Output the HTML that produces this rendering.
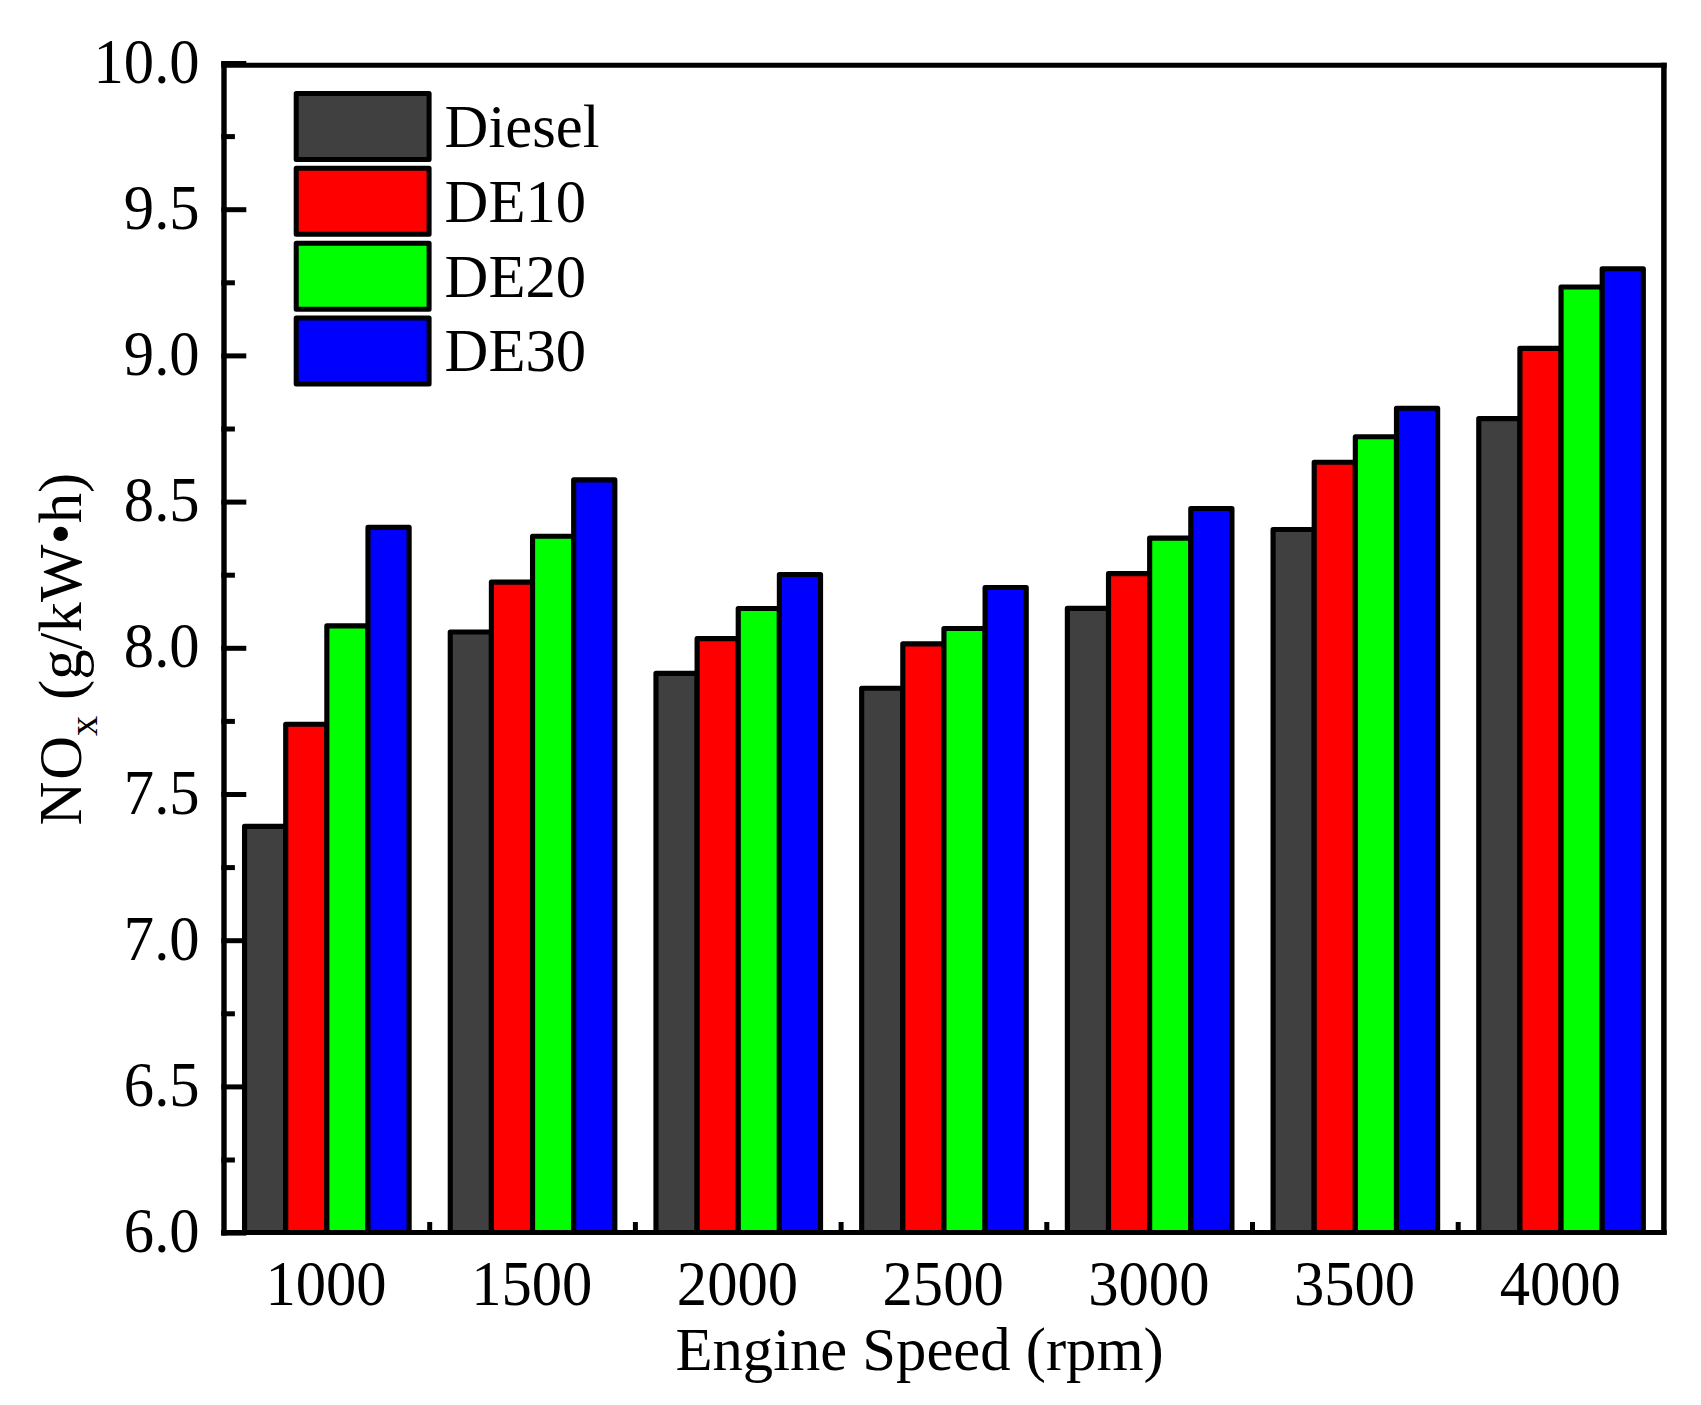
<!DOCTYPE html>
<html lang="en"><head><meta charset="utf-8"><title>NOx vs Engine Speed</title>
<style>
html,body{margin:0;padding:0;background:#fff;}
body{width:1701px;height:1405px;overflow:hidden;}
svg{display:block}
text{font-family:"Liberation Serif","Times New Roman",serif;font-size:62px;fill:#000;}
</style></head><body>
<svg width="1701" height="1405" viewBox="0 0 1701 1405">
<rect width="1701" height="1405" fill="#fff"/>

<g stroke="#000" stroke-width="5.15" stroke-linejoin="round">
<rect x="244.57" y="826.30" width="41.14" height="406.20" fill="#404040"/>
<rect x="285.71" y="724.20" width="41.14" height="508.30" fill="#ff0000"/>
<rect x="326.85" y="625.80" width="41.14" height="606.70" fill="#00ff00"/>
<rect x="367.99" y="527.40" width="41.14" height="705.10" fill="#0000ff"/>
<rect x="450.27" y="632.00" width="41.14" height="600.50" fill="#404040"/>
<rect x="491.41" y="582.10" width="41.14" height="650.40" fill="#ff0000"/>
<rect x="532.55" y="536.20" width="41.14" height="696.30" fill="#00ff00"/>
<rect x="573.69" y="479.90" width="41.14" height="752.60" fill="#0000ff"/>
<rect x="655.97" y="673.30" width="41.14" height="559.20" fill="#404040"/>
<rect x="697.11" y="638.65" width="41.14" height="593.85" fill="#ff0000"/>
<rect x="738.25" y="608.50" width="41.14" height="624.00" fill="#00ff00"/>
<rect x="779.39" y="574.45" width="41.14" height="658.05" fill="#0000ff"/>
<rect x="861.67" y="688.25" width="41.14" height="544.25" fill="#404040"/>
<rect x="902.81" y="643.90" width="41.14" height="588.60" fill="#ff0000"/>
<rect x="943.95" y="628.45" width="41.14" height="604.05" fill="#00ff00"/>
<rect x="985.09" y="587.45" width="41.14" height="645.05" fill="#0000ff"/>
<rect x="1067.37" y="608.30" width="41.14" height="624.20" fill="#404040"/>
<rect x="1108.51" y="573.65" width="41.14" height="658.85" fill="#ff0000"/>
<rect x="1149.65" y="538.10" width="41.14" height="694.40" fill="#00ff00"/>
<rect x="1190.79" y="508.50" width="41.14" height="724.00" fill="#0000ff"/>
<rect x="1273.07" y="529.45" width="41.14" height="703.05" fill="#404040"/>
<rect x="1314.21" y="462.25" width="41.14" height="770.25" fill="#ff0000"/>
<rect x="1355.35" y="436.75" width="41.14" height="795.75" fill="#00ff00"/>
<rect x="1396.49" y="408.25" width="41.14" height="824.25" fill="#0000ff"/>
<rect x="1478.77" y="418.65" width="41.14" height="813.85" fill="#404040"/>
<rect x="1519.91" y="348.35" width="41.14" height="884.15" fill="#ff0000"/>
<rect x="1561.05" y="287.00" width="41.14" height="945.50" fill="#00ff00"/>
<rect x="1602.19" y="268.70" width="41.14" height="963.80" fill="#0000ff"/>
</g>
<g stroke="#000" stroke-width="5" fill="none">
<line x1="221.3" y1="1233.10" x2="246.3" y2="1233.10"/>
<line x1="221.3" y1="1160.00" x2="234.9" y2="1160.00"/>
<line x1="221.3" y1="1086.90" x2="246.3" y2="1086.90"/>
<line x1="221.3" y1="1013.80" x2="234.9" y2="1013.80"/>
<line x1="221.3" y1="940.70" x2="246.3" y2="940.70"/>
<line x1="221.3" y1="867.60" x2="234.9" y2="867.60"/>
<line x1="221.3" y1="794.50" x2="246.3" y2="794.50"/>
<line x1="221.3" y1="721.40" x2="234.9" y2="721.40"/>
<line x1="221.3" y1="648.30" x2="246.3" y2="648.30"/>
<line x1="221.3" y1="575.20" x2="234.9" y2="575.20"/>
<line x1="221.3" y1="502.10" x2="246.3" y2="502.10"/>
<line x1="221.3" y1="429.00" x2="234.9" y2="429.00"/>
<line x1="221.3" y1="355.90" x2="246.3" y2="355.90"/>
<line x1="221.3" y1="282.80" x2="234.9" y2="282.80"/>
<line x1="221.3" y1="209.70" x2="246.3" y2="209.70"/>
<line x1="221.3" y1="136.60" x2="234.9" y2="136.60"/>
<line x1="221.3" y1="63.50" x2="246.3" y2="63.50"/>
<line x1="429.70" y1="1222" x2="429.70" y2="1234"/>
<line x1="635.40" y1="1222" x2="635.40" y2="1234"/>
<line x1="841.10" y1="1222" x2="841.10" y2="1234"/>
<line x1="1046.80" y1="1222" x2="1046.80" y2="1234"/>
<line x1="1252.50" y1="1222" x2="1252.50" y2="1234"/>
<line x1="1458.20" y1="1222" x2="1458.20" y2="1234"/>
</g>
<g stroke="#000" fill="none">
<line x1="224.0" y1="61.0" x2="224.0" y2="1235.6" stroke-width="5.4"/>
<line x1="1663.9" y1="62.85" x2="1663.9" y2="1234.95" stroke-width="5.5"/>
<line x1="221.3" y1="65.35" x2="1666.65" y2="65.35" stroke-width="5"/>
<line x1="221.3" y1="1232.5" x2="1666.65" y2="1232.5" stroke-width="4.9"/>
</g>
<text transform="translate(199.60,1252.10) scale(0.978,1.024)" text-anchor="end">6.0</text>
<text transform="translate(199.60,1105.90) scale(0.978,1.024)" text-anchor="end">6.5</text>
<text transform="translate(199.60,959.70) scale(0.978,1.024)" text-anchor="end">7.0</text>
<text transform="translate(199.60,813.50) scale(0.978,1.024)" text-anchor="end">7.5</text>
<text transform="translate(199.60,667.30) scale(0.978,1.024)" text-anchor="end">8.0</text>
<text transform="translate(199.60,521.10) scale(0.978,1.024)" text-anchor="end">8.5</text>
<text transform="translate(199.60,374.90) scale(0.978,1.024)" text-anchor="end">9.0</text>
<text transform="translate(199.60,228.70) scale(0.978,1.024)" text-anchor="end">9.5</text>
<text transform="translate(199.60,82.50) scale(0.978,1.024)" text-anchor="end">10.0</text>
<text transform="translate(326.05,1304.60) scale(0.978,1.024)" text-anchor="middle">1000</text>
<text transform="translate(531.75,1304.60) scale(0.978,1.024)" text-anchor="middle">1500</text>
<text transform="translate(737.45,1304.60) scale(0.978,1.024)" text-anchor="middle">2000</text>
<text transform="translate(943.15,1304.60) scale(0.978,1.024)" text-anchor="middle">2500</text>
<text transform="translate(1148.85,1304.60) scale(0.978,1.024)" text-anchor="middle">3000</text>
<text transform="translate(1354.55,1304.60) scale(0.978,1.024)" text-anchor="middle">3500</text>
<text transform="translate(1560.25,1304.60) scale(0.978,1.024)" text-anchor="middle">4000</text>
<text transform="translate(919.60,1369.90) scale(0.978,1)" text-anchor="middle">Engine Speed (rpm)</text>
<text transform="translate(81,825.5) rotate(-90) scale(0.978,1)">N<tspan dx="2.1">O</tspan><tspan font-size="41.5" dy="16.2">x</tspan><tspan dy="-16.2"> </tspan><tspan dx="0.5">(g/k</tspan><tspan dx="0.3">W</tspan><tspan dx="0.3">•h)</tspan></text>
<g stroke="#000" stroke-width="5" stroke-linejoin="round">
<rect x="296.2" y="93.40" width="132.9" height="66.0" fill="#404040"/>
<rect x="296.2" y="168.27" width="132.9" height="66.0" fill="#ff0000"/>
<rect x="296.2" y="243.14" width="132.9" height="66.0" fill="#00ff00"/>
<rect x="296.2" y="318.01" width="132.9" height="66.0" fill="#0000ff"/>
</g>
<text transform="translate(444.60,147.30) scale(0.978,1)" text-anchor="start">Diesel</text>
<text transform="translate(444.60,221.90) scale(0.978,1)" text-anchor="start">DE10</text>
<text transform="translate(444.60,296.50) scale(0.978,1)" text-anchor="start">DE20</text>
<text transform="translate(444.60,371.10) scale(0.978,1)" text-anchor="start">DE30</text>
</svg></body></html>
